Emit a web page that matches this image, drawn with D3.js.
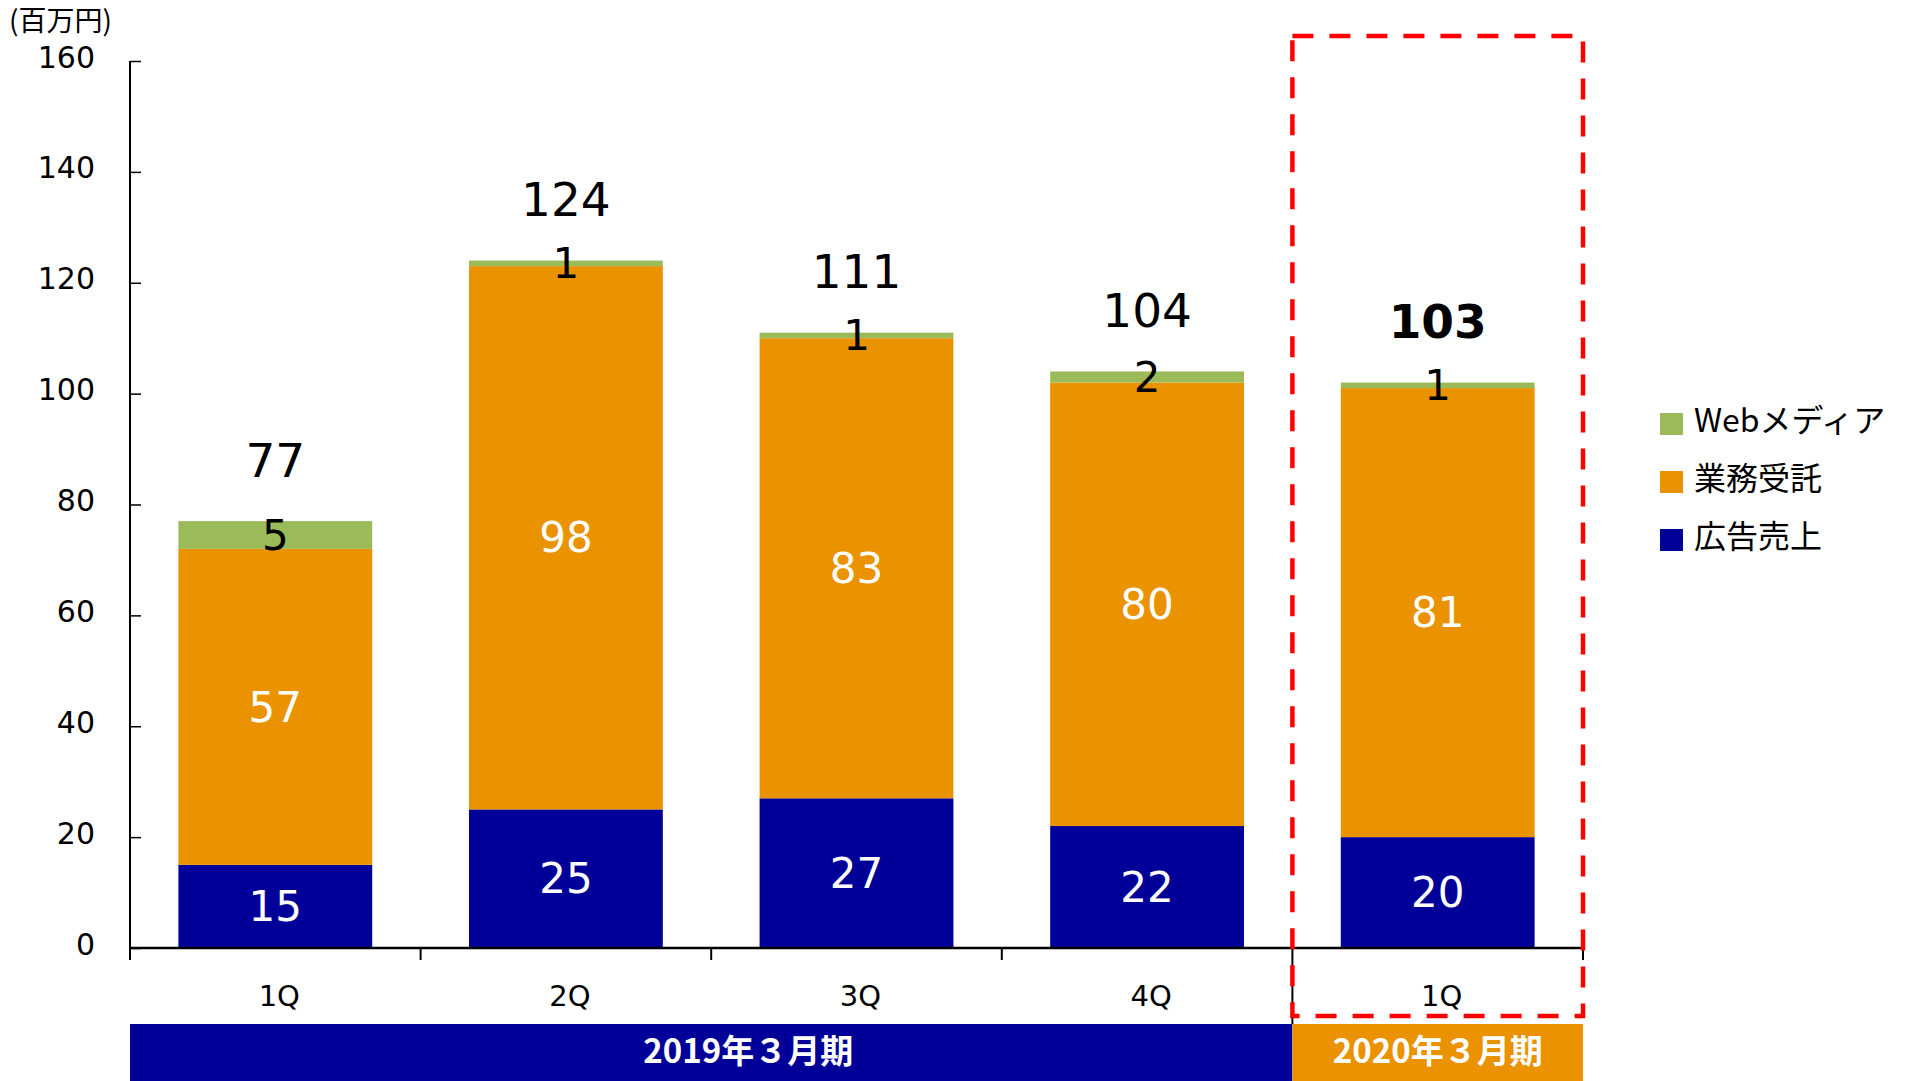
<!DOCTYPE html>
<html>
<head>
<meta charset="utf-8">
<script src="https://cdn.jsdelivr.net/npm/d3@7"></script>
<style>
  body { margin: 0; background: #fff; }
  text { font-family: "DejaVu Sans", "Noto Sans CJK JP", sans-serif; }
  .jp { font-family: "Noto Sans CJK JP", sans-serif; }
</style>
</head>
<body>
<svg id="chart" width="1911" height="1081"></svg>
<script>
// quarters (two fiscal years)
const quarterKeys = ["FY19-1Q", "FY19-2Q", "FY19-3Q", "FY19-4Q", "FY20-1Q"]
const quarterLabels = ["1Q", "2Q", "3Q", "4Q", "1Q"]

// series, in 百万円
const adSales = [15, 25, 27, 22, 20]        // 広告売上
const outsourcing = [57, 98, 83, 80, 81]    // 業務受託
const webMedia = [5, 1, 1, 2, 1]            // Webメディア
const totals = [77, 124, 111, 104, 103]

const seriesNames = ["広告売上", "業務受託", "Webメディア"]
const seriesColors = ["#000099", "#EA9200", "#9BBB59"]

const yTicks = [0, 20, 40, 60, 80, 100, 120, 140, 160]

const fyLabels = ["2019年３月期", "2020年３月期"]
const fyCounts = [4, 1]
const fyColors = ["#000099", "#EA9200"]

let svg = d3.select("#chart")

let margin = { top: 61, left: 130, right: 328, bottom: 133 }
let width = 1911, height = 1081

let x = d3.scaleBand()
  .domain(quarterKeys)
  .range([margin.left, width - margin.right])
  .paddingInner(0.333)
  .paddingOuter(0.1665)

let y = d3.scaleLinear()
  .domain([0, 160])
  .range([height - margin.bottom, margin.top])

let rows = quarterKeys.map((k, i) => ({
  key: k,
  "広告売上": adSales[i],
  "業務受託": outsourcing[i],
  "Webメディア": webMedia[i],
  total: totals[i]
}))

let series = d3.stack().keys(seriesNames)(rows)

let color = d3.scaleOrdinal().domain(seriesNames).range(seriesColors)

// bars
let bars = svg.append("g")
series.forEach(s => {
  bars.append("g")
    .attr("fill", color(s.key))
    .selectAll("rect")
    .data(s)
    .join("rect")
    .attr("x", d => x(d.data.key))
    .attr("width", x.bandwidth())
    .attr("y", d => y(d[1]))
    .attr("height", d => y(d[0]) - y(d[1]))
})

// y axis
let yAxis = svg.append("g")
  .attr("transform", `translate(${margin.left},0)`)
  .call(d3.axisRight(y).tickValues(yTicks).tickSize(11).tickFormat(""))
  .call(g => g.select(".domain").remove())
yAxis.selectAll("line").attr("stroke", "#000").attr("stroke-width", 1.5)

svg.append("line")
  .attr("x1", margin.left).attr("x2", margin.left)
  .attr("y1", y(160)).attr("y2", y(0) + 12)
  .attr("stroke", "#000").attr("stroke-width", 2)

svg.append("g")
  .selectAll("text")
  .data(yTicks)
  .join("text")
  .attr("x", 95)
  .attr("y", d => y(d))
  .attr("dy", "0.22em")
  .attr("text-anchor", "end")
  .style("font-size", "30px")
  .text(d => d)

svg.append("text")
  .attr("class", "jp")
  .attr("x", 9)
  .attr("y", 31)
  .style("font-size", "28px")
  .text("(百万円)")

// x axis
let x0 = x.range()[0], x1 = x.range()[1]
svg.append("line")
  .attr("x1", x0).attr("x2", x1)
  .attr("y1", y(0)).attr("y2", y(0))
  .attr("stroke", "#000").attr("stroke-width", 2.5)

let bounds = quarterKeys.map(k => x(k) - x.step() * x.paddingInner() / 2)
bounds.push(x1)
svg.append("g")
  .selectAll("line")
  .data(bounds)
  .join("line")
  .attr("x1", d => d).attr("x2", d => d)
  .attr("y1", y(0))
  .attr("y2", (d, i) => i == 4 ? y(0) + 76 : y(0) + 12)
  .attr("stroke", "#000").attr("stroke-width", 2)

svg.append("g")
  .selectAll("text")
  .data(quarterKeys)
  .join("text")
  .attr("x", d => x(d) + x.bandwidth() / 2 + 4)
  .attr("y", y(0) + 48)
  .attr("dy", "0.35em")
  .attr("text-anchor", "middle")
  .style("font-size", "29px")
  .text((d, i) => quarterLabels[i])

// fiscal year bands (first label sits a bit right of centre in the original)
let fyShift = [37, 0]
let fyStart = 0
fyLabels.forEach((lab, i) => {
  let a = bounds[fyStart], b = bounds[fyStart + fyCounts[i]]
  svg.append("rect")
    .attr("x", a).attr("width", b - a)
    .attr("y", 1024).attr("height", height - 1024)
    .attr("fill", fyColors[i])
  svg.append("text")
    .attr("class", "jp")
    .attr("x", (a + b) / 2 + fyShift[i])
    .attr("y", 1051)
    .attr("dy", "0.35em")
    .attr("text-anchor", "middle")
    .style("font-size", "33px")
    .style("font-weight", "bold")
    .style("fill", "#fff")
    .text(lab)
  fyStart += fyCounts[i]
})

// segment labels
series.forEach(s => {
  svg.append("g")
    .selectAll("text")
    .data(s)
    .join("text")
    .attr("x", d => x(d.data.key) + x.bandwidth() / 2)
    .attr("y", d => y((d[0] + d[1]) / 2))
    .attr("dy", "0.35em")
    .attr("text-anchor", "middle")
    .style("font-size", "42px")
    .style("fill", s.key == "Webメディア" ? "#000" : "#fff")
    .text(d => d[1] - d[0])
})

// totals
svg.append("g")
  .selectAll("text")
  .data(rows)
  .join("text")
  .attr("x", d => x(d.key) + x.bandwidth() / 2)
  .attr("y", d => y(d["広告売上"] + d["業務受託"] + d["Webメディア"]) - 61)
  .attr("dy", "0.35em")
  .attr("text-anchor", "middle")
  .style("font-size", "47px")
  .style("font-weight", (d, i) => i == 4 ? "bold" : "normal")
  .text(d => d.total)

// highlight box around latest quarter
let hb = bounds[4]
svg.append("rect")
  .attr("x", hb).attr("y", 36)
  .attr("width", x1 - hb).attr("height", 1016 - 36)
  .attr("fill", "none")
  .attr("stroke", "#FF0000")
  .attr("stroke-width", 4.5)
  .attr("stroke-dasharray", "21,16")

// legend
let legend = svg.append("g").attr("transform", "translate(1660,413)")
let legendOrder = ["Webメディア", "業務受託", "広告売上"]
legendOrder.forEach((k, i) => {
  legend.append("rect")
    .attr("x", 0).attr("y", i * 58)
    .attr("width", 23).attr("height", 22)
    .attr("fill", color(k))
  legend.append("text")
    .attr("class", "jp")
    .attr("x", 34).attr("y", i * 58 + 8)
    .attr("dy", "0.35em")
    .style("font-size", "32px")
    .text(k)
})
</script>
</body>
</html>
